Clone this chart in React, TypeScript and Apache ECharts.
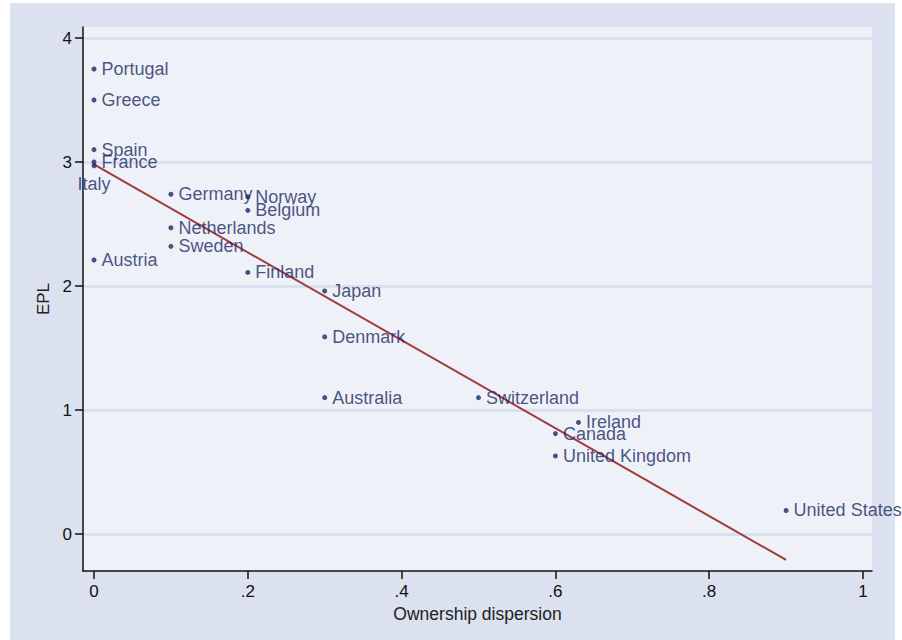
import React, { useEffect, useRef } from 'react';
import * as echarts from 'echarts';

const countries = [
  'Portugal', 'Greece', 'Spain', 'France', 'Italy', 'Austria',
  'Germany', 'Netherlands', 'Sweden', 'Norway', 'Belgium', 'Finland',
  'Japan', 'Denmark', 'Australia', 'Switzerland', 'Ireland', 'Canada',
  'United Kingdom', 'United States',
];
const ownershipDispersion = [
  0, 0, 0, 0, 0, 0,
  0.1, 0.1, 0.1, 0.2, 0.2, 0.2,
  0.3, 0.3, 0.3, 0.5, 0.63, 0.6,
  0.6, 0.9,
];
const eplValues = [
  3.75, 3.5, 3.1, 3.0, 2.97, 2.21,
  2.74, 2.47, 2.32, 2.72, 2.61, 2.11,
  1.96, 1.59, 1.10, 1.10, 0.9, 0.81,
  0.63, 0.19,
];
const xTicks = [0, 0.2, 0.4, 0.6, 0.8, 1];
const yTicks = [0, 1, 2, 3, 4];
const labelBelow = ['Italy'];

function linearFit(xs: number[], ys: number[]) {
  const n = xs.length;
  const mx = xs.reduce((a, b) => a + b, 0) / n;
  const my = ys.reduce((a, b) => a + b, 0) / n;
  let sxy = 0;
  let sxx = 0;
  for (let i = 0; i < n; i++) {
    sxy += (xs[i] - mx) * (ys[i] - my);
    sxx += (xs[i] - mx) * (xs[i] - mx);
  }
  const b = sxy / sxx;
  const a = my - b * mx;
  return { a, b };
}

export default function App() {
  const ref = useRef<HTMLDivElement>(null);

  useEffect(() => {
    if (!ref.current) return;
    const chart = echarts.init(ref.current, undefined, { renderer: 'svg' });
    const { a, b } = linearFit(ownershipDispersion, eplValues);
    const xMin = Math.min(...ownershipDispersion);
    const xMax = Math.max(...ownershipDispersion);
    const fitData = [
      [xMin, a + b * xMin],
      [xMax, a + b * xMax],
    ];
    const navy = '#1c2a63';
    const font = 'Liberation Sans, Arial, sans-serif';

    const scatterData = countries.map((name, i) => {
      const item: any = { name, value: [ownershipDispersion[i], eplValues[i]] };
      if (labelBelow.includes(name)) {
        item.label = { position: 'bottom', distance: 7 };
      }
      return item;
    });

    const fmtX = (v: number) => {
      if (v === 0) return '0';
      if (v === 1) return '1';
      return String(Math.round(v * 10) / 10).replace(/^0/, '');
    };

    chart.setOption({
      animation: false,
      backgroundColor: '#ffffff',
      graphic: [
        {
          type: 'rect',
          z: -100,
          silent: true,
          shape: { x: 10, y: 3, width: 885, height: 650 },
          style: { fill: '#dbe1ee' },
        },
      ],
      grid: {
        left: 83,
        top: 27,
        right: 30,
        bottom: 69,
        show: true,
        backgroundColor: '#eef1f8',
        borderWidth: 0,
        containLabel: false,
      },
      xAxis: {
        type: 'value',
        min: -0.0143,
        max: 1.0117,
        name: 'Ownership dispersion',
        nameLocation: 'middle',
        nameGap: 28,
        nameTextStyle: { fontFamily: font, fontSize: 17.5, color: '#222222' },
        axisLine: { show: true, onZero: false, lineStyle: { color: '#111111', width: 1.5 } },
        axisTick: { show: true, length: 8, customValues: xTicks, lineStyle: { color: '#111111', width: 1.5 } },
        axisLabel: {
          customValues: xTicks,
          margin: 12,
          fontFamily: font,
          fontSize: 17,
          color: '#111111',
          formatter: (v: number) => fmtX(v),
        },
        splitLine: { show: false },
      },
      yAxis: {
        type: 'value',
        min: -0.298,
        max: 4.089,
        name: 'EPL',
        nameLocation: 'middle',
        nameGap: 29,
        nameRotate: 90,
        nameTextStyle: { fontFamily: font, fontSize: 17, color: '#222222' },
        axisLine: { show: true, onZero: false, lineStyle: { color: '#111111', width: 1.5 } },
        axisTick: { show: true, length: 8, customValues: yTicks, lineStyle: { color: '#111111', width: 1.5 } },
        axisLabel: {
          customValues: yTicks,
          margin: 11,
          fontFamily: font,
          fontSize: 17,
          color: '#111111',
        },
        splitLine: { show: true, lineStyle: { color: '#d9e0ee', width: 3 } },
      },
      series: [
        {
          type: 'line',
          data: fitData,
          symbol: 'none',
          lineStyle: { color: '#a3383d', width: 2 },
          z: 3,
          silent: true,
        },
        {
          type: 'scatter',
          data: scatterData,
          symbol: 'circle',
          symbolSize: 5,
          itemStyle: { color: navy },
          z: 4,
          label: {
            show: true,
            position: 'right',
            distance: 5,
            formatter: (p: any) => p.name,
            fontFamily: font,
            fontSize: 18,
            color: navy,
          },
          labelLayout: { hideOverlap: false },
        },
      ],
    });

    return () => chart.dispose();
  }, []);

  return (
    <div
      ref={ref}
      style={{ position: 'absolute', left: 0, top: 0, width: 902, height: 640 }}
    />
  );
}
